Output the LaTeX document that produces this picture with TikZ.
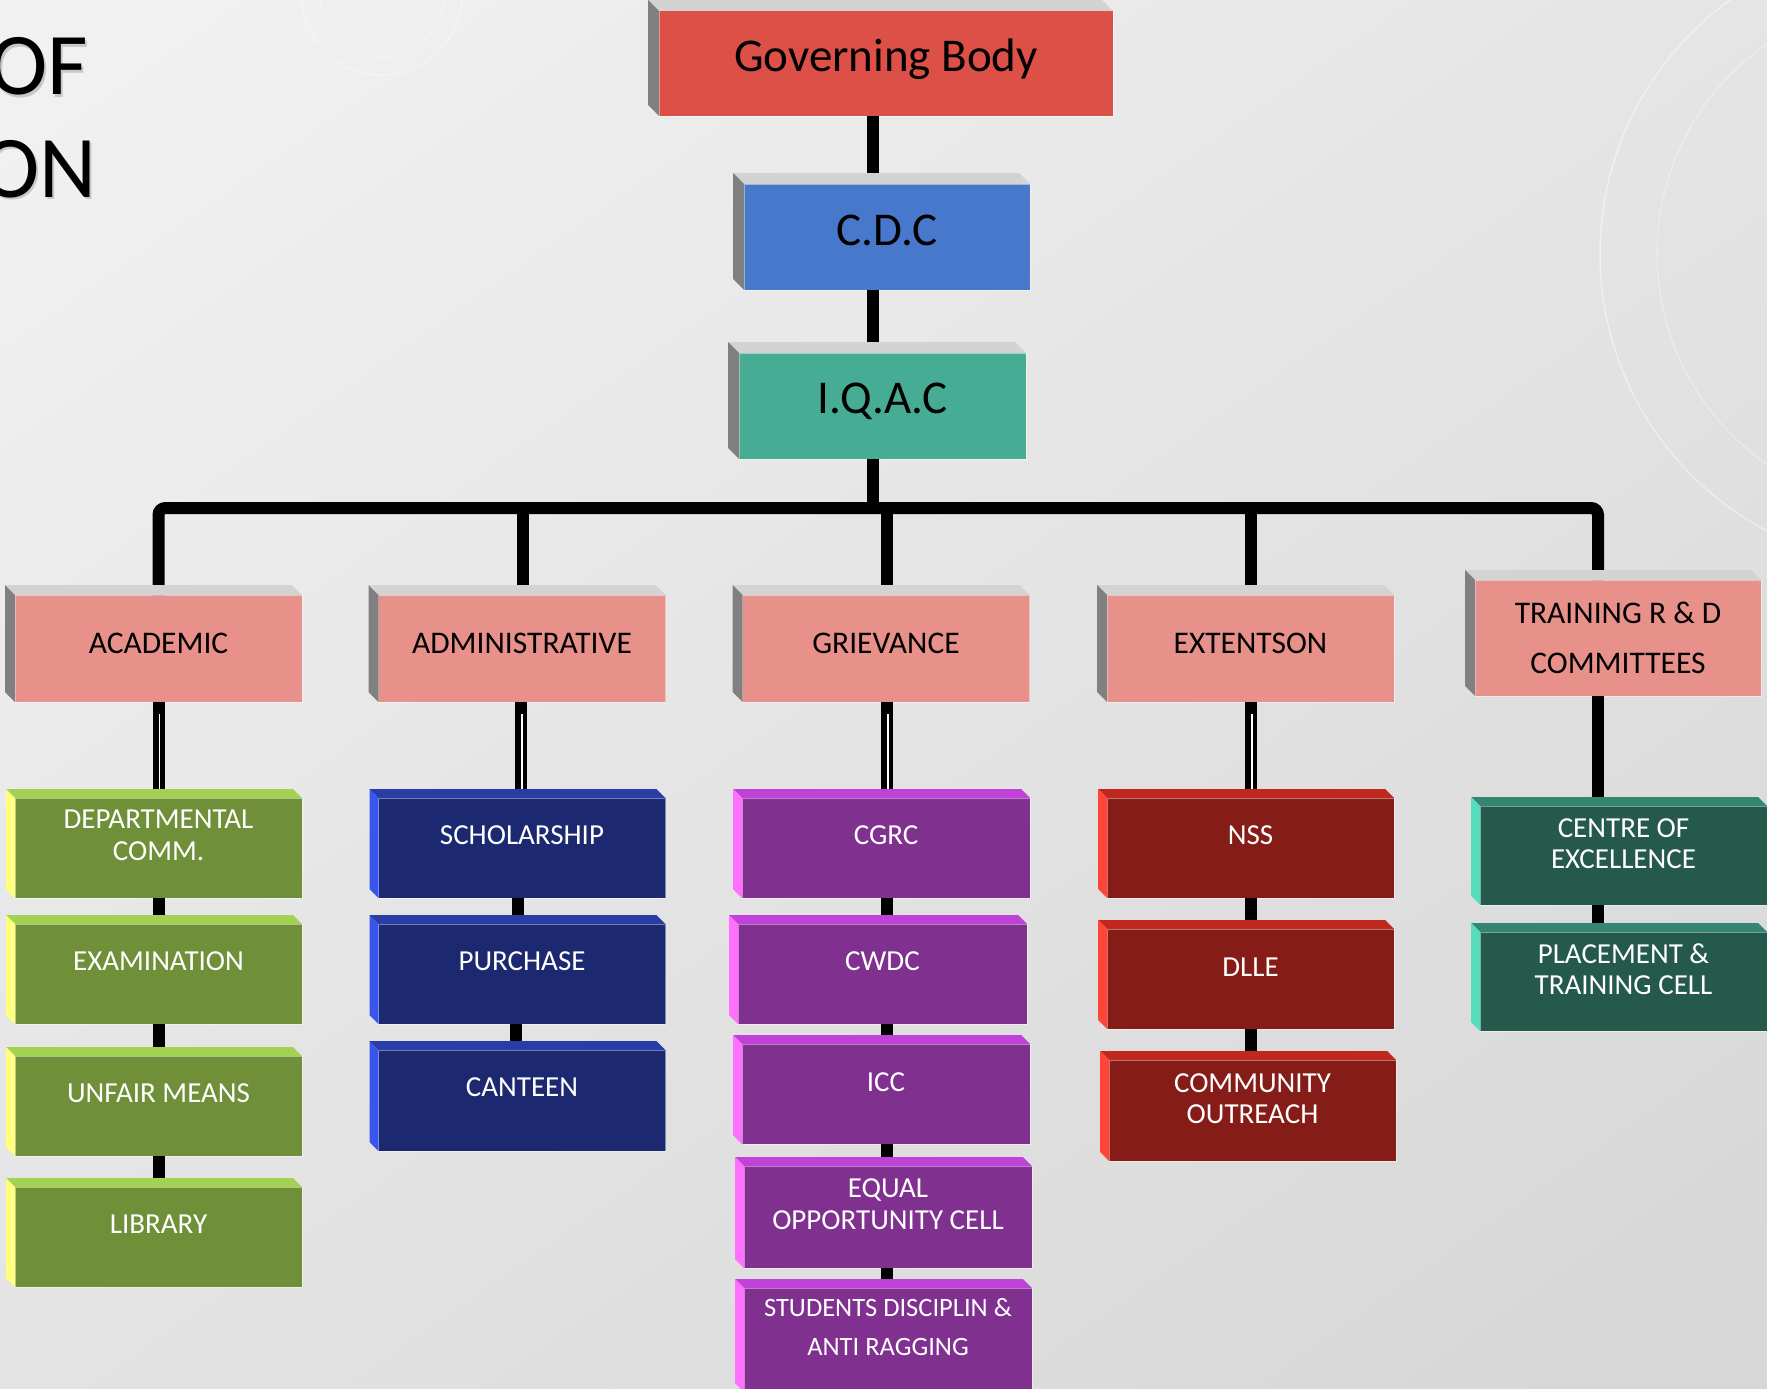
\documentclass[tikz,border=0pt]{standalone}
\usepackage{fontspec}
\setmainfont{Carlito}
\usetikzlibrary{calc}
\definecolor{bgA}{RGB}{241,241,241}
\definecolor{bgB}{RGB}{215,215,215}
\definecolor{gbC}{RGB}{221,80,71}
\definecolor{cdcC}{RGB}{72,120,203}
\definecolor{iqC}{RGB}{70,172,147}
\definecolor{bevT}{RGB}{211,211,211}
\definecolor{bevS}{RGB}{128,128,128}
\definecolor{pinkC}{RGB}{232,145,139}
\definecolor{grF}{RGB}{111,143,56}
\definecolor{grT}{RGB}{163,209,84}
\definecolor{grS}{RGB}{255,255,128}
\definecolor{nvF}{RGB}{28,40,112}
\definecolor{nvT}{RGB}{42,60,165}
\definecolor{nvS}{RGB}{58,85,235}
\definecolor{puF}{RGB}{128,48,143}
\definecolor{puT}{RGB}{192,66,216}
\definecolor{puS}{RGB}{255,112,255}
\definecolor{rdF}{RGB}{133,28,23}
\definecolor{rdT}{RGB}{192,40,31}
\definecolor{rdS}{RGB}{255,69,53}
\definecolor{tlF}{RGB}{36,89,76}
\definecolor{tlT}{RGB}{52,134,115}
\definecolor{tlS}{RGB}{85,221,189}
% bevel: node, depth, top colour, side colour
\newcommand{\mybev}[4]{%
  \fill[#3] (#1.north west) -- (#1.north east) -- ([shift={(-#2,-#2)}]#1.north east) -- ([shift={(-#2,-#2)}]#1.north west) -- cycle;
  \fill[#4] (#1.north west) -- ([shift={(-#2,-#2)}]#1.north west) -- ([shift={(-#2,-#2)}]#1.south west) -- (#1.south west) -- cycle;
}
\begin{document}
\begin{tikzpicture}[x=1pt,y=-1pt,
  face/.style={draw=white, draw opacity=0.45, line width=1pt, inner sep=0pt, outer sep=0pt},
  boxwh/.style 2 args={face, minimum width=#1pt, minimum height=#2pt},
  conn/.style={line width=12pt, black},
  hl/.style={line width=1.6pt, white},
  tA/.style={font=\fontsize{47}{56}\selectfont, text=black, anchor=base},
  tB/.style={font=\fontsize{31.5}{50}\selectfont, text=black, align=center},
  tC/.style={font=\fontsize{29}{31.5}\selectfont, text=white, align=center},
  tD/.style={font=\fontsize{26.5}{39}\selectfont, text=white, align=center},
  titletxt/.style={font=\fontsize{88}{100}\selectfont, anchor=base east, inner sep=0pt, text=black},
  titleshadow/.style={font=\fontsize{88}{100}\selectfont, anchor=base east, inner sep=0pt, text=black!45, opacity=0.4}
]
\useasboundingbox (0,0) rectangle (1767,1389);
\clip (0,0) rectangle (1767,1389);
\shade[top color=bgA, bottom color=bgB, shading angle=35] (-200,-200) rectangle (1967,1589);
% faint background decoration
\draw[white, opacity=0.45, line width=1.5pt] (1913,254) circle (313);
\draw[white, opacity=0.35, line width=1.2pt] (1913,254) circle (256);
\draw[white, opacity=0.4, line width=1.2pt] (382,-5) circle (80);
\draw[white, opacity=0.3, line width=1pt] (382,-5) circle (62);

% title fragments
\node[titleshadow] (tOFs) at (90.5,97) {OF};
\node[titleshadow] (tONs) at (99,199) {ON};
\node[titletxt] (tOF) at (88.5,95) {OF};
\node[titletxt] (tON) at (97,197) {ON};

% ---- faces ----
\node[boxwh={454}{105}, fill=gbC] (gb) at (886,63.5) {};
\node[boxwh={286}{106}, fill=cdcC] (cdc) at (887,237) {};
\node[boxwh={287}{106}, fill=iqC] (iqac) at (882.5,406) {};

\node[boxwh={287}{107}, fill=pinkC] (acad) at (158.5,648.5) {};
\node[boxwh={287}{107}, fill=pinkC] (admin) at (522,648.5) {};
\node[boxwh={287}{107}, fill=pinkC] (griev) at (886,648.5) {};
\node[boxwh={287}{107}, fill=pinkC] (ext) at (1250.5,648.5) {};
\node[boxwh={286}{116}, fill=pinkC] (train) at (1618,638) {};

\node[boxwh={287}{100}, fill=grF] (dept) at (158.5,848) {};
\node[boxwh={287}{100}, fill=grF] (exam) at (158.5,974) {};
\node[boxwh={287}{100}, fill=grF] (unfair) at (158.5,1106) {};
\node[boxwh={287}{100}, fill=grF] (lib) at (158.5,1237) {};

\node[boxwh={287}{100}, fill=nvF] (schol) at (522,848) {};
\node[boxwh={287}{100}, fill=nvF] (purch) at (522,974) {};
\node[boxwh={287}{101}, fill=nvF] (cant) at (522,1100.5) {};

\node[boxwh={288}{100}, fill=puF] (cgrc) at (886,848) {};
\node[boxwh={289}{100}, fill=puF] (cwdc) at (882.5,974) {};
\node[boxwh={288}{100}, fill=puF] (icc) at (886,1094) {};
\node[boxwh={288}{102}, fill=puF] (equal) at (888,1217) {};
\node[boxwh={288}{104}, fill=puF] (stud) at (888,1340) {};

\node[boxwh={287}{100}, fill=rdF] (nss) at (1250.5,848) {};
\node[boxwh={287}{100}, fill=rdF] (dlle) at (1250.5,979) {};
\node[boxwh={287}{101}, fill=rdF] (comm) at (1252.5,1110.5) {};

\node[boxwh={287}{99}, fill=tlF] (cent) at (1623.5,855.5) {};
\node[boxwh={287}{99}, fill=tlF] (place) at (1623.5,981.5) {};

% ---- connectors ----
\coordinate (trunk) at (873,0);
\coordinate (bus) at (0,508);
\coordinate (xadm) at (523,0);
\coordinate (xgri) at (887,0);
\coordinate (xext) at (1251,0);
\coordinate (xtr) at (1598,0);

\draw[conn] (gb.south -| trunk) -- (cdc.north -| trunk);
\draw[conn] (cdc.south -| trunk) -- (iqac.north -| trunk);
\draw[conn] (iqac.south -| trunk) -- (bus -| trunk);
\draw[conn, rounded corners=7pt] (acad.north) -- (acad.north |- bus) -- (bus -| xtr) -- (train.north -| xtr);
\draw[conn] (bus -| xadm) -- (admin.north -| xadm);
\draw[conn] (bus -| xgri) -- (griev.north -| xgri);
\draw[conn] (bus -| xext) -- (ext.north -| xext);

% level 2 -> 3
\draw[conn] (acad.south) -- (dept.north);
\draw[hl] ([shift={(1,12)}]acad.south) -- ([shift={(1,-3)}]dept.north);
\draw[conn] ([xshift=-1pt]admin.south) -- ([xshift=-1pt]schol.north);
\draw[hl] ([shift={(0,12)}]admin.south) -- ([shift={(0,-3)}]schol.north);
\draw[conn] (griev.south -| xgri) -- (cgrc.north -| xgri);
\draw[hl] ([shift={(2,12)}]griev.south) -- ([shift={(2,-3)}]cgrc.north);
\draw[conn] (ext.south -| xext) -- (nss.north -| xext);
\draw[hl] ([shift={(1,12)}]ext.south -| xext) -- ([shift={(1,-3)}]nss.north -| xext);
\draw[conn] (train.south -| xtr) -- (cent.north -| xtr);

% inside columns
\draw[conn] (dept.south) -- (exam.north);
\draw[conn] (exam.south) -- (unfair.north);
\draw[conn] (unfair.south) -- (lib.north);
\draw[conn] ([xshift=-4pt]schol.south) -- ([xshift=-4pt]purch.north);
\draw[conn] ([xshift=-6pt]purch.south) -- ([xshift=-6pt]cant.north);
\draw[conn] (cgrc.south -| xgri) -- (cwdc.north -| xgri);
\draw[conn] (cwdc.south -| xgri) -- (icc.north -| xgri);
\draw[conn] (icc.south -| xgri) -- (equal.north -| xgri);
\draw[conn] (equal.south -| xgri) -- (stud.north -| xgri);
\draw[conn] (nss.south -| xext) -- (dlle.north -| xext);
\draw[conn] (dlle.south -| xext) -- (comm.north -| xext);
\draw[conn] (cent.south -| xtr) -- (place.north -| xtr);

% ---- bevels ----
\mybev{gb}{11}{bevT}{bevS}
\mybev{cdc}{11}{bevT}{bevS}
\mybev{iqac}{11}{bevT}{bevS}
\mybev{acad}{10}{bevT}{bevS}
\mybev{admin}{10}{bevT}{bevS}
\mybev{griev}{10}{bevT}{bevS}
\mybev{ext}{10}{bevT}{bevS}
\mybev{train}{10}{bevT}{bevS}
\mybev{dept}{9}{grT}{grS}
\mybev{exam}{9}{grT}{grS}
\mybev{unfair}{9}{grT}{grS}
\mybev{lib}{9}{grT}{grS}
\mybev{schol}{9}{nvT}{nvS}
\mybev{purch}{9}{nvT}{nvS}
\mybev{cant}{9}{nvT}{nvS}
\mybev{cgrc}{9}{puT}{puS}
\mybev{cwdc}{9}{puT}{puS}
\mybev{icc}{9}{puT}{puS}
\mybev{equal}{9}{puT}{puS}
\mybev{stud}{9}{puT}{puS}
\mybev{nss}{9}{rdT}{rdS}
\mybev{dlle}{9}{rdT}{rdS}
\mybev{comm}{9}{rdT}{rdS}
\mybev{cent}{9}{tlT}{tlS}
\mybev{place}{9}{tlT}{tlS}

% ---- texts ----
\node[tA] (gbT) at (886,71.7) {Governing Body};
\node[tA] (cdcT) at (887,245) {C.D.C};
\node[tA] (iqacT) at (882.5,413) {I.Q.A.C};

\node[tB] (acadT) at (158.5,643) {ACADEMIC};
\node[tB] (adminT) at (522,643) {ADMINISTRATIVE};
\node[tB] (grievT) at (886,643) {GRIEVANCE};
\node[tB] (extT) at (1250.5,643) {EXTENTSON};
\node[tB] (trainT) at (1618,638) {TRAINING R \& D\\COMMITTEES};

\node[tC] (deptT) at (158.5,835.5) {DEPARTMENTAL\\COMM.};
\node[tC] (examT) at (158.5,961) {EXAMINATION};
\node[tC] (unfairT) at (158.5,1093) {UNFAIR MEANS};
\node[tC] (libT) at (158.5,1224) {LIBRARY};
\node[tC] (scholT) at (522,835) {SCHOLARSHIP};
\node[tC] (purchT) at (522,961) {PURCHASE};
\node[tC] (cantT) at (522,1087) {CANTEEN};
\node[tC] (cgrcT) at (886,835) {CGRC};
\node[tC] (cwdcT) at (882.5,961) {CWDC};
\node[tC] (iccT) at (886,1082) {ICC};
\node[tC] (equalT) at (888,1204) {EQUAL\\OPPORTUNITY CELL};
\node[tD] (studT) at (888,1327) {STUDENTS DISCIPLIN \&\\ANTI RAGGING};
\node[tC] (nssT) at (1250.5,835) {NSS};
\node[tC] (dlleT) at (1250.5,967) {DLLE};
\node[tC] (commT) at (1252.5,1098.5) {COMMUNITY\\OUTREACH};
\node[tC] (centT) at (1623.5,843.5) {CENTRE OF\\EXCELLENCE};
\node[tC] (placeT) at (1623.5,969) {PLACEMENT \&\\TRAINING CELL};
\end{tikzpicture}
\end{document}
